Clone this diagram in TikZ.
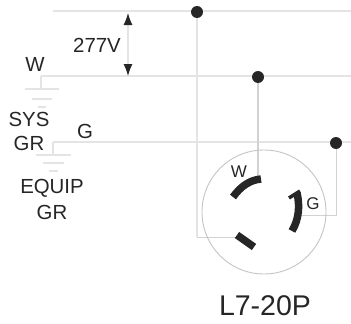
\documentclass[tikz,border=0pt]{standalone}
\usepackage{fontspec}
\setmainfont{Liberation Sans}
\usetikzlibrary{arrows.meta,backgrounds}
\definecolor{ink}{HTML}{262626}
\definecolor{wire}{HTML}{E4E4E4}
\definecolor{wirelow}{HTML}{D2D2D2}
\definecolor{ring}{HTML}{C4C4C4}
\tikzset{
  x=1pt,y=-1pt,
  wireline/.style={draw=wire,line width=1.4pt},
  thinwire/.style={draw=wire,line width=1.1pt},
  lowwire/.style={draw=wirelow,line width=1pt},
  dot/.style={circle,fill=ink,draw=none,minimum size=12pt,inner sep=0pt},
  blade/.style={draw=ink,line width=7.5pt},
  lab/.style={font=\fontsize{20.4}{20.4}\selectfont,text=ink,inner sep=0pt,anchor=center},
  small/.style={font=\fontsize{17}{17}\selectfont,text=ink,inner sep=0pt,anchor=center},
  title/.style={font=\fontsize{28.5}{28.5}\selectfont,text=ink,inner sep=0pt,anchor=center},
  dim/.style={draw=wire,line width=1.1pt,{Latex[length=12pt,width=9pt,color=ink]}-{Latex[length=12pt,width=9pt,color=ink]}},
}
\begin{document}
\begin{tikzpicture}
\useasboundingbox (0,0) rectangle (351,324);
\node[dot] (d1) at (197,12) {};
\node[dot] (d2) at (258,77) {};
\node[dot] (d3) at (336,143) {};
\coordinate (t0) at (53,11);   \coordinate (t1) at (351,11);
\coordinate (w0) at (41,76);   \coordinate (w1) at (351,76);
\coordinate (g0) at (53,142);  \coordinate (g1) at (351,142);
\coordinate (bl) at (197,237); \coordinate (blE) at (237,237);
\coordinate (wE) at (258,180);
\coordinate (gc) at (336,215); \coordinate (gE) at (299,215);
\coordinate (a0) at (128,13);  \coordinate (a1) at (128,76);
\begin{scope}[on background layer]
\draw[wireline] (t0) -- (t1);
\draw[thinwire] (w0) -- (w1);
\draw[thinwire] (g0) -- (g1);
\draw[wireline] (d1.center) -- (bl);
\draw[lowwire] (bl) -- (blE);
\draw[wireline,draw=wirelow] (d2.center) -- (wE);
\draw[lowwire] (d3.center) -- (gc) -- (gE);
\end{scope}
\draw[dim] (a0) -- (a1);
\draw[thinwire] (w0) -- (41,89);
\draw[thinwire] (25,89) -- (59,89);
\draw[thinwire] (32,99) -- (52,99);
\draw[thinwire] (38,107) -- (46,107);
\draw[thinwire] (g0) -- (53,155);
\draw[thinwire] (36,155) -- (71,155);
\draw[thinwire] (43,163) -- (64,163);
\draw[thinwire] (49,171) -- (58,171);
\node[circle,draw=ring,line width=0.9pt,minimum size=124pt,inner sep=0pt] (plug) at (264,212) {};
\draw[blade] (261,179) .. controls (250,180) and (241,186) .. (233,197);
\draw[blade] (297,193) .. controls (300,206) and (299,219) .. (292,231);
\draw[draw=ink,line width=3.5pt] (289,198) -- (300,191);
\draw[blade] (237,235) -- (254,247);
\node[lab] (v) at (97,45) {277V};
\node[lab] (lw) at (35,64) {W};
\node[lab] (ls) at (29,119) {SYS};
\node[lab] (lr) at (29,143) {GR};
\node[lab] (lg) at (85,131) {G};
\node[lab] (le) at (52,188) {EQUIP};
\node[lab] (lq) at (52,212) {GR};
\node[small] (pw) at (239,172) {W};
\node[small] (pg) at (313,204) {G};
\node[title] (tt) at (265,306) {L7-20P};
\end{tikzpicture}
\end{document}
